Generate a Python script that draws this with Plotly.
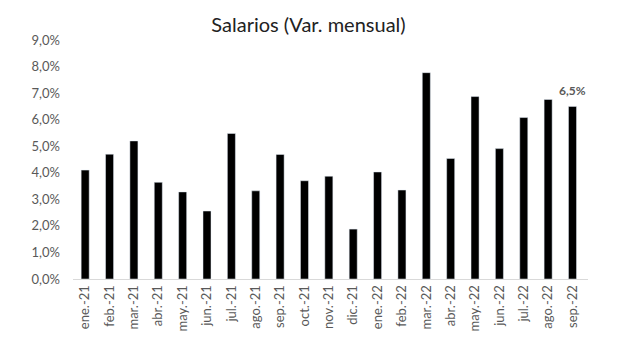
import plotly.graph_objects as go

categories = ["ene.-21", "feb.-21", "mar.-21", "abr.-21", "may.-21", "jun.-21", "jul.-21",
              "ago.-21", "sep.-21", "oct.-21", "nov.-21", "dic.-21", "ene.-22", "feb.-22",
              "mar.-22", "abr.-22", "may.-22", "jun.-22", "jul.-22", "ago.-22", "sep.-22"]
values = [4.1, 4.7, 5.2, 3.64, 3.28, 2.56, 5.48, 3.32, 4.69, 3.70, 3.87, 1.88, 4.03, 3.35,
          7.77, 4.54, 6.87, 4.91, 6.08, 6.76, 6.5]
label_text = "6,5%"

fig = go.Figure(go.Bar(x=categories, y=values, marker_color="black"))

fig.add_annotation(x=categories[-1], y=values[-1], text="<b>" + label_text + "</b>",
                   showarrow=False, yanchor="bottom", yshift=6,
                   font=dict(color="#595959", size=12, family="Lato"))

fig.update_layout(
    width=617, height=355,
    margin=dict(l=73, r=29, t=40, b=76),
    paper_bgcolor="white", plot_bgcolor="white",
    separators=",.",
    bargap=0.67,
    showlegend=False,
    title=dict(text="Salarios (Var. mensual)", x=0.5, xanchor="center", y=0.93, yanchor="middle",
               font=dict(family="Lato", size=20, color="#222222")),
    font=dict(family="Lato", color="#595959", size=13),
)
fig.update_xaxes(type="category", tickangle=-90, showline=True, linecolor="#d9d9d9",
                 linewidth=1, ticks="", showgrid=False,
                 tickfont=dict(size=13, color="#595959"))
fig.update_yaxes(range=[0, 9], dtick=1, tickformat=".1f", ticksuffix="%", showgrid=False,
                 zeroline=False, showline=False, ticks="", ticklabelstandoff=12,
                 tickfont=dict(size=13, color="#595959"))

fig.write_html("out.html")
